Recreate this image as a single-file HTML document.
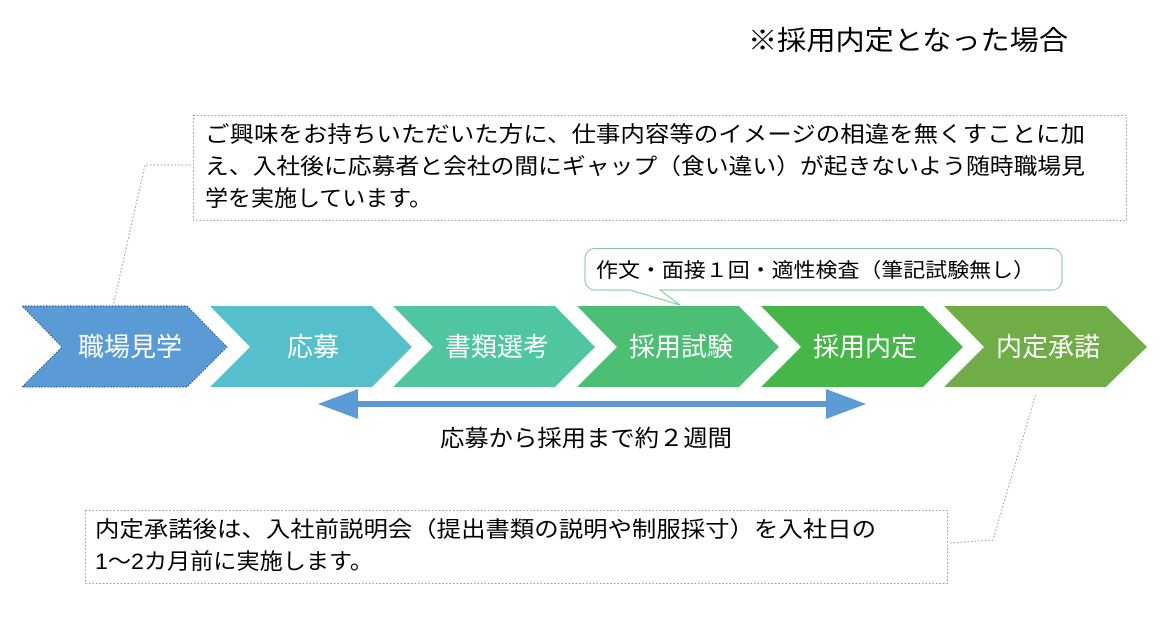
<!DOCTYPE html>
<html><head><meta charset="utf-8"><style>
body{margin:0;background:#fff;}
svg text{font-family:"Liberation Sans","Noto Sans CJK JP",sans-serif;}
</style></head><body>
<svg width="1173" height="614" viewBox="0 0 1173 614" xmlns="http://www.w3.org/2000/svg">
<text x="748" y="50" font-size="27" fill="#000" textLength="320" lengthAdjust="spacingAndGlyphs">※採用内定となった場合</text>
<rect x="193.5" y="115.5" width="933" height="105" fill="#fff" stroke="#999" stroke-dasharray="1.5,2"/>
<g font-size="22" fill="#000">
<text x="205" y="142" textLength="880" lengthAdjust="spacingAndGlyphs">ご興味をお持ちいただいた方に、仕事内容等のイメージの相違を無くすことに加</text>
<text x="205" y="174" textLength="880" lengthAdjust="spacingAndGlyphs">え、入社後に応募者と会社の間にギャップ（食い違い）が起きないよう随時職場見</text>
<text x="205" y="206" textLength="227" lengthAdjust="spacingAndGlyphs">学を実施しています。</text>
</g>
<polyline points="190,165 145,165 113,306" fill="none" stroke="#999" stroke-dasharray="1.5,2"/>
<polygon points="22,306 187,306 227,347 187,387 22,387 62,347" fill="#5b9bd5" stroke="#2a4f7a" stroke-dasharray="1.5,1.5"/>
<polygon points="210,306 372,306 412,347 372,387 210,387 250,347" fill="#55c0cc"/>
<polygon points="393,306 555,306 595,347 555,387 393,387 433,347" fill="#4fc6a0"/>
<polygon points="577,306 739,306 779,347 739,387 577,387 617,347" fill="#4cbf74"/>
<polygon points="761,306 923,306 963,347 923,387 761,387 801,347" fill="#47b649"/>
<polygon points="944,306 1106,306 1147,347 1106,387 944,387 984,347" fill="#70ad47"/>
<g font-size="26" fill="#fff" text-anchor="middle">
<text x="130" y="356">職場見学</text>
<text x="313" y="356">応募</text>
<text x="497" y="356">書類選考</text>
<text x="681" y="356">採用試験</text>
<text x="865" y="356">採用内定</text>
<text x="1048" y="356">内定承諾</text>
</g>
<path d="M595,248.5 H1052 a10,10 0 0 1 10,10 V280 a10,10 0 0 1 -10,10 H660 L680,305 L630,290 H595 a10,10 0 0 1 -10,-10 V258.5 a10,10 0 0 1 10,-10 Z" fill="#fff" stroke="#7fc99a"/>
<text x="596" y="277" font-size="20" fill="#000" textLength="439" lengthAdjust="spacingAndGlyphs">作文・面接１回・適性検査（筆記試験無し）</text>
<polygon points="318,404 358,389 358,401 826,401 826,389 866,404 826,419 826,407 358,407 358,419" fill="#5b9bd5"/>
<text x="440" y="446" font-size="23" fill="#000" textLength="292" lengthAdjust="spacingAndGlyphs">応募から採用まで約２週間</text>
<rect x="85.5" y="510.5" width="862" height="73" fill="#fff" stroke="#999" stroke-dasharray="1.5,2"/>
<g font-size="22" fill="#000">
<text x="95" y="537" textLength="781" lengthAdjust="spacingAndGlyphs">内定承諾後は、入社前説明会（提出書類の説明や制服採寸）を入社日の</text>
<text x="95" y="569" textLength="278" lengthAdjust="spacingAndGlyphs">1〜2カ月前に実施します。</text>
</g>
<polyline points="950,543 993,540 1036,393" fill="none" stroke="#999" stroke-dasharray="1.5,2"/>
</svg>
</body></html>
